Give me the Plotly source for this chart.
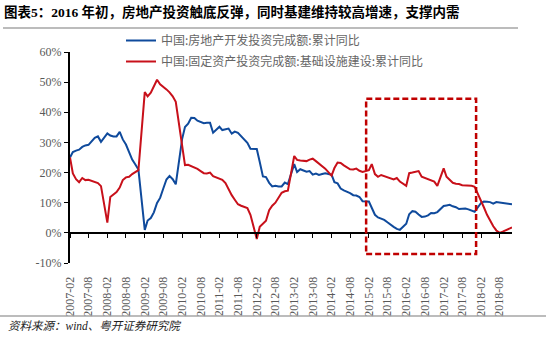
import plotly.graph_objects as go

# ---------------- data ----------------
years = list(range(2007, 2019))
months = [2, 3, 4, 5, 6, 7, 8, 9, 10, 11, 12]   # Jan is reported together with Feb
dates = [f"{y}-{m:02d}-01" for y in years for m in months]

# 中国:房地产开发投资完成额:累计同比 (%)
real_estate = [
    25.0, 26.8, 27.3, 27.6, 28.5, 29.0, 29.2, 30.3, 31.5, 32.0, 30.2,   # 2007
    33.0, 32.3, 32.0, 32.0, 33.5, 31.0, 29.3, 26.5, 24.3, 22.7, 21.0,   # 2008
    1.0, 4.1, 4.9, 6.8, 9.9, 11.6, 14.7, 17.7, 18.9, 17.8, 16.1,        # 2009
    31.1, 35.1, 36.2, 38.2, 38.1, 37.2, 36.7, 36.4, 36.5, 36.5, 33.2,   # 2010
    35.2, 34.1, 34.3, 34.6, 32.9, 33.6, 33.2, 32.0, 31.1, 29.9, 27.9,   # 2011
    27.8, 23.5, 18.7, 18.5, 16.6, 15.4, 15.6, 15.4, 15.4, 16.7, 16.2,   # 2012
    22.8, 20.2, 21.1, 20.6, 20.3, 20.5, 19.3, 19.7, 19.2, 19.5, 19.8,   # 2013
    19.3, 16.8, 16.4, 14.7, 14.1, 13.7, 13.2, 12.5, 12.4, 11.9, 10.5,   # 2014
    10.4, 8.5, 6.0, 5.1, 4.6, 4.3, 3.5, 2.6, 2.0, 1.3, 1.0,             # 2015
    3.0, 6.2, 7.2, 7.0, 6.1, 5.3, 5.4, 5.8, 6.6, 6.5, 6.9,              # 2016
    8.9, 9.1, 9.3, 8.8, 8.5, 7.9, 7.9, 8.1, 7.8, 7.5, 7.0,              # 2017
    9.9, 10.4, 10.3, 10.2, 9.7, 10.2, 10.1, 9.9, 9.7, 9.7, 9.5,         # 2018
]

# 中国:固定资产投资完成额:基础设施建设:累计同比 (%)
infrastructure = [
    25.0, 19.7, 17.8, 16.8, 18.2, 17.5, 17.6, 17.2, 16.9, 16.5, 15.5,   # 2007
    3.4, 11.9, 12.8, 13.5, 15.0, 17.5, 18.4, 18.6, 19.5, 20.3, 20.8,    # 2008
    46.7, 45.3, 46.5, 48.5, 50.8, 49.3, 48.5, 47.6, 46.6, 45.3, 43.5,   # 2009
    28.0, 22.5, 22.6, 22.2, 21.8, 21.2, 20.5, 19.8, 19.7, 20.0, 18.8,   # 2010
    18.0, 17.6, 16.5, 14.5, 12.5, 11.0, 9.5, 9.0, 8.6, 8.2, 6.0,        # 2011
    -2.0, 2.0, 3.0, 4.0, 7.5, 9.0, 10.0, 11.5, 13.3, 13.8, 14.0,        # 2012
    25.5, 24.2, 24.0, 23.8, 23.8, 24.3, 24.6, 23.8, 23.0, 22.0, 21.3,   # 2013
    19.0, 21.5, 23.3, 23.2, 22.4, 21.8, 21.1, 21.0, 21.3, 20.6, 20.2,   # 2014
    20.8, 22.8, 19.5, 18.6, 19.2, 18.8, 18.6, 18.0, 17.7, 18.2, 17.0,   # 2015
    15.6, 19.8, 20.0, 20.3, 20.5, 18.6, 18.2, 17.8, 17.3, 17.0, 15.6,   # 2016
    21.4, 18.6, 17.5, 16.6, 16.3, 16.2, 15.8, 15.8, 15.7, 15.6, 15.3,   # 2017
    11.0, 8.5, 6.0, 4.0, 2.2, 0.8, 0.0, 0.4, 0.8, 1.2, 1.8,             # 2018
]

series_names = ["中国:房地产开发投资完成额:累计同比",
                "中国:固定资产投资完成额:基础设施建设:累计同比"]

y_ticks = [-10, 0, 10, 20, 30, 40, 50, 60]
y_tick_labels = [f"{v}%" for v in y_ticks]
x_tick_dates = [f"{y}-{m:02d}-01" for y in years for m in (2, 8)]
x_tick_labels = [d[:7] for d in x_tick_dates]

highlight_x = ["2015-01-05", "2017-12-15"]
highlight_y = [-7, 44.5]

title_text = "图表5：2016 年初，房地产投资触底反弹，同时基建维持较高增速，支撑内需"
source_text = "资料来源：wind、粤开证券研究院"

# ---------------- layout geometry ----------------
W, H = 550, 337
ML, MR, MT, MB = 70, 38, 52, 74
PW, PH = W - ML - MR, H - MT - MB


def px_x(p):
    return (p - ML) / PW


def px_y(p):
    return (H - MB - p) / PH


BLUE = "#0F4A9C"
RED = "#C8101A"
GRAY = "#595959"
SERIF = "Liberation Serif, Times New Roman, Noto Sans CJK SC, serif"
CJK = "Noto Sans CJK SC, sans-serif"

fig = go.Figure()
fig.add_trace(go.Scatter(x=dates, y=real_estate, mode="lines", name=series_names[0],
                         line=dict(color=BLUE, width=2), legendgroup="a"))
fig.add_trace(go.Scatter(x=dates, y=infrastructure, mode="lines", name=series_names[1],
                         line=dict(color=RED, width=2), legendgroup="b"))
# invisible trace carrying the zero-line axis
fig.add_trace(go.Scatter(x=dates, y=real_estate, xaxis="x2", mode="lines",
                         line=dict(color="rgba(0,0,0,0)"), showlegend=False, hoverinfo="skip"))

zero_pos = (0 - y_ticks[0]) / (y_ticks[-1] - y_ticks[0])

fig.update_layout(
    width=W, height=H,
    margin=dict(l=ML, r=MR, t=MT, b=MB),
    paper_bgcolor="white", plot_bgcolor="white",
    showlegend=True,
    legend=dict(x=px_x(121), y=px_y(26), xanchor="left", yanchor="top",
                font=dict(family=CJK, size=12, color="#666666"),
                bgcolor="rgba(0,0,0,0)", borderwidth=0,
                traceorder="grouped", tracegroupgap=2, itemwidth=30),
    xaxis=dict(type="date", range=[dates[0], dates[-1]],
               tickvals=x_tick_dates, ticktext=x_tick_labels, tickangle=-90,
               ticks="outside", ticklen=8, tickcolor="rgba(0,0,0,0)",
               showline=False, showgrid=False, zeroline=False,
               tickfont=dict(family=SERIF, size=12, color=GRAY)),
    xaxis2=dict(type="date", range=[dates[0], dates[-1]], overlaying="x",
                anchor="free", position=zero_pos,
                tickvals=x_tick_dates, showticklabels=False,
                ticks="outside", ticklen=4, tickwidth=1.3, tickcolor="black",
                showline=True, linecolor="black", linewidth=1.5,
                showgrid=False, zeroline=False),
    yaxis=dict(range=[y_ticks[0], y_ticks[-1]], tickvals=y_ticks, ticktext=y_tick_labels,
               showline=True, linecolor="black", linewidth=2,
               ticks="outside", ticklen=4, tickwidth=1.3, tickcolor="black",
               showgrid=False, zeroline=False,
               tickfont=dict(family=SERIF, size=12, color=GRAY)),
    title=dict(text=title_text, xref="container", yref="container",
               x=4 / W, y=1 - 12 / H, xanchor="left", yanchor="middle",
               font=dict(family=SERIF, size=13.5, color="black", weight="bold")),
)

shapes = [
    dict(type="rect", xref="x", yref="y",
         x0=highlight_x[0], x1=highlight_x[1], y0=highlight_y[0], y1=highlight_y[1],
         line=dict(color="#C00000", width=2.5, dash="6px,3px"), fillcolor="rgba(0,0,0,0)"),
    dict(type="line", xref="paper", yref="paper", x0=px_x(3), x1=px_x(518),
         y0=px_y(28), y1=px_y(28), line=dict(color="#A6A6A6", width=1.5)),
    dict(type="line", xref="paper", yref="paper", x0=px_x(0), x1=px_x(546),
         y0=px_y(316), y1=px_y(316), line=dict(color="#A6A6A6", width=1.5)),
]
fig.update_layout(shapes=shapes)

fig.add_annotation(text=source_text, xref="paper", yref="paper",
                   x=px_x(6), y=px_y(326), xanchor="left", yanchor="middle",
                   showarrow=False,
                   font=dict(family=SERIF, size=11.5, color="#222222", style="italic"))

fig.write_html("out.html")
